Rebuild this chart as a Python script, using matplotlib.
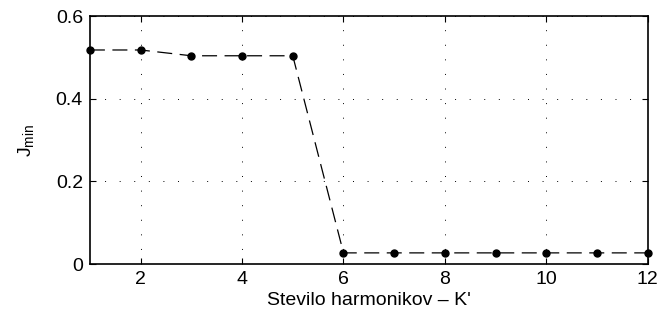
import matplotlib
matplotlib.use("Agg")
import matplotlib.pyplot as plt

K = [1, 2, 3, 4, 5, 6, 7, 8, 9, 10, 11, 12]
J_min = [0.518, 0.518, 0.504, 0.504, 0.504, 0.027, 0.027, 0.027, 0.027, 0.027, 0.027, 0.027]
xticks = [2, 4, 6, 8, 10, 12]
yticks = [0, 0.2, 0.4, 0.6]
ytick_labels = ["0", "0.2", "0.4", "0.6"]

plt.rcParams['font.family'] = ['Liberation Sans', 'DejaVu Sans']
plt.rcParams['mathtext.fontset'] = 'custom'
plt.rcParams['mathtext.rm'] = 'Liberation Sans'
plt.rcParams['mathtext.it'] = 'Liberation Sans'

FS = 14
fig = plt.figure(figsize=(6.61, 3.22), dpi=100)
ax = fig.add_axes([0.136, 0.180, 0.844, 0.770])
ax.plot(K, J_min, color='black', lw=0.9, dashes=(12, 6), marker='o', markersize=5,
        markerfacecolor='black', markeredgecolor='black', clip_on=False, zorder=3)
ax.set_xlim(1, 12)
ax.set_ylim(0, 0.6)
ax.set_xticks(xticks)
ax.set_yticks(yticks)
ax.set_yticklabels(ytick_labels)
ax.grid(True, linestyle=(0, (1, 14)), color='black', lw=0.7)
ax.tick_params(direction='in', top=True, right=True, labelsize=FS, length=4, width=0.8, pad=5)
for s in ax.spines.values():
    s.set_linewidth(1.2)
ax.set_xlabel("Stevilo harmonikov – K'", fontsize=FS, labelpad=3)
ax.set_ylabel(r"J$_{\mathrm{min}}$", fontsize=FS, labelpad=14)
fig.savefig("out.png", dpi=100)
